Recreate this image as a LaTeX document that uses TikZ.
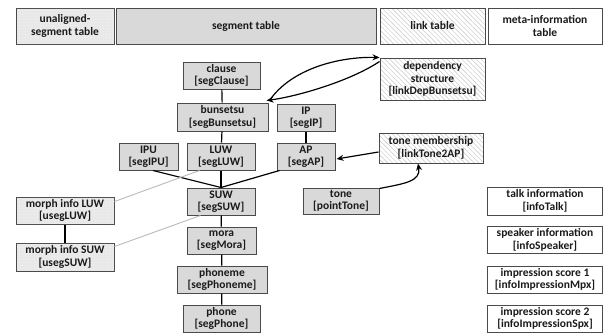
\documentclass[tikz,border=0pt]{standalone}
\usepackage{fontspec}
\setmainfont{Carlito}
\usetikzlibrary{arrows.meta,patterns.meta}
\definecolor{segfill}{HTML}{D9D9D9}
\definecolor{unfill}{HTML}{EBEBEB}
\definecolor{edge}{HTML}{4A4A4A}
\definecolor{ink}{HTML}{1A1A1A}
\tikzset{
  base/.style={draw=edge, line width=1pt, align=center, inner sep=0pt,
    text=ink, font=\fontsize{11.5}{12.5}\selectfont\bfseries},
  segbox/.style={base, fill=segfill},
  unbox/.style={base, fill=unfill,
    postaction={pattern={Dots[distance=3pt,radius=0.35pt]}, pattern color=gray!45}},
  linkbox/.style={base, preaction={fill=white},
    pattern={Lines[angle=-45,distance=3.4pt,line width=0.45pt]}, pattern color=gray!45},
  metabox/.style={base, fill=white},
  conn/.style={draw=black, line width=1.2pt},
  gline/.style={draw=gray!55, line width=0.9pt},
  arr/.style={draw=black, line width=1.2pt, -{Stealth[length=7pt,width=6pt]}}
}
\begin{document}
\begin{tikzpicture}[x=1pt,y=-1pt]
\useasboundingbox (0,0) rectangle (608,333);

% table-kind legend
\node[unbox,   minimum width=98pt,  minimum height=36pt] (hUn)   at (65,26)    {unaligned-\\segment table};
\node[segbox,  minimum width=260pt, minimum height=36pt] (hSeg)  at (246,26)   {segment table};
\node[linkbox, minimum width=105pt, minimum height=36pt] (hLink) at (432.5,26) {link table};
\node[metabox, minimum width=114pt, minimum height=36pt] (hMeta) at (545,26)   {meta-information\\table};

% segment tables
\node[segbox, minimum width=77pt, minimum height=27pt] (clause) at (221.5,75.5) {clause\\{}[segClause]};
\node[segbox, minimum width=91pt, minimum height=28pt] (bun)    at (222.5,117)  {bunsetsu\\{}[segBunsetsu]};
\node[segbox, minimum width=59pt, minimum height=27pt] (ipu)    at (148.5,156.5){IPU\\{}[segIPU]};
\node[segbox, minimum width=68pt, minimum height=27pt] (luw)    at (221,156.5)  {LUW\\{}[segLUW]};
\node[segbox, minimum width=58pt, minimum height=27pt] (ip)     at (306,117.5)  {IP\\{}[segIP]};
\node[segbox, minimum width=58pt, minimum height=27pt] (ap)     at (306,156.5)  {AP\\{}[segAP]};
\node[segbox, minimum width=68pt, minimum height=27pt] (suw)    at (221,201.5)  {SUW\\{}[segSUW]};
\node[segbox, minimum width=69pt, minimum height=27pt] (mora)   at (221.5,240.5){mora\\{}[segMora]};
\node[segbox, minimum width=90pt, minimum height=27pt] (phon)   at (222,279.5)  {phoneme\\{}[segPhoneme]};
\node[segbox, minimum width=77pt, minimum height=27pt] (phone)  at (221.5,318.5){phone\\{}[segPhone]};
\node[segbox, minimum width=76pt, minimum height=26pt] (tone)   at (341,201)    {tone\\{}[pointTone]};

% unaligned-segment tables
\node[unbox, minimum width=98pt, minimum height=27pt] (mluw) at (65,210.5) {morph info LUW\\{}[usegLUW]};
\node[unbox, minimum width=98pt, minimum height=28pt] (msuw) at (65,257)   {morph info SUW\\{}[usegSUW]};

% link tables
\node[linkbox, minimum width=105pt, minimum height=42pt] (dep) at (432.5,79) {dependency\\structure\\{}[linkDepBunsetsu]};
\node[linkbox, minimum width=104pt, minimum height=30pt] (tm)  at (431,148)  {tone membership\\{}[linkTone2AP]};

% meta-information tables
\node[metabox, minimum width=115pt, minimum height=28pt] (talk) at (545,201)   {talk information\\{}[infoTalk]};
\node[metabox, minimum width=115pt, minimum height=27pt] (spk)  at (545,240)   {speaker information\\{}[infoSpeaker]};
\node[metabox, minimum width=115pt, minimum height=27pt] (imp1) at (545,279.5) {impression score 1\\{}[infoImpressionMpx]};
\node[metabox, minimum width=115pt, minimum height=27pt] (imp2) at (545,318.5) {impression score 2\\{}[infoImpressionSpx]};

% hierarchy links
\draw[conn] (clause) -- (bun);
\draw[conn] (bun) -- (luw);
\draw[conn] (luw) -- (suw);
\draw[conn] (suw) -- (mora);
\draw[conn] (mora) -- (phon);
\draw[conn] (phon) -- (phone);
\draw[conn] (ip) -- (ap);
\draw[conn] (mluw) -- (msuw);
\draw[conn] ([xshift=4.5pt]ipu.south) -- (suw.north);
\draw[conn] ([xshift=3pt]ap.south west) -- (suw.north);

% alignment to unaligned segments
\draw[gline] ([xshift=13pt]luw.south west) -- ([yshift=-5pt]mluw.north east);
\draw[gline] ([xshift=14pt]suw.south west) -- ([yshift=-4pt]msuw.north east);

% links
\draw[arr] ([xshift=1pt,yshift=2pt]bun.north east) .. controls +(22,-32) and +(-40,-1) .. (dep.north west);
\draw[arr] ([yshift=-4pt]dep.north west) .. controls +(-30,20) and +(30,-4) .. ([xshift=-2pt,yshift=2pt]bun.north east);
\draw[arr] ([yshift=-4pt]tm.west) -- ([xshift=1pt,yshift=-2.5pt]ap.east);
\draw[arr] ([yshift=-1pt]tone.north east) .. controls +(25,-5) and +(3,18) .. ([xshift=-13pt]tm.south);
\end{tikzpicture}
\end{document}
